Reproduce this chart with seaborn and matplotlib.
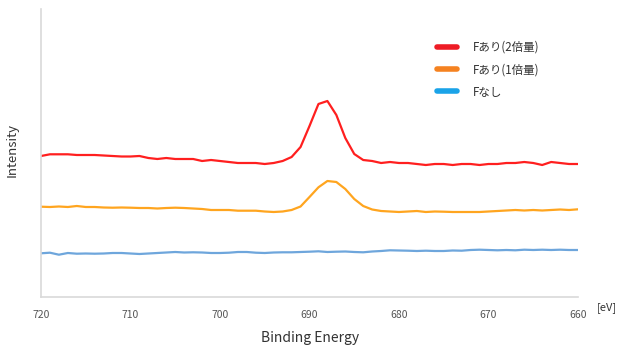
import numpy as np
import pandas as pd
import matplotlib
matplotlib.use("Agg")
import matplotlib.pyplot as plt
from matplotlib.lines import Line2D
import seaborn as sns

energy = list(range(720, 659, -1))
series_names = ["Fあり(2倍量)", "Fあり(1倍量)", "Fなし"]
red_vals = [144, 145.7, 145.7, 145.7, 145, 145, 145, 144.5, 144, 143.5, 143.5, 144, 142, 141, 142, 141,
            141, 141, 139, 140, 139, 138, 137, 137, 137, 136, 137, 139, 143, 153, 174, 196, 199, 185,
            162, 146, 140, 139, 137, 138, 137, 137, 136, 135, 136, 136, 135, 136, 136, 135, 136, 136,
            137, 137, 138, 137, 135, 138, 137, 136, 136]
orange_vals = [93.3, 93, 93.5, 93, 94, 93, 93, 92.5, 92.3, 92.5, 92.3, 92, 92, 91.5, 92, 92.3, 92, 91.5,
               91, 90, 90, 90, 89.3, 89.3, 89.3, 88.5, 88, 88.5, 90, 93.5, 103, 112.7, 119, 118, 111,
               101, 94, 90.5, 89, 88.5, 88, 88.5, 89, 88, 88.5, 88.3, 88, 88, 88, 88, 88.5, 89, 89.5,
               90, 89.5, 90, 89.5, 90, 90.5, 90, 90.7]
blue_vals = [46.7, 47.3, 45.3, 47, 46.3, 46.5, 46.3, 46.5, 47, 47, 46.5, 46, 46.5, 47, 47.5, 48, 47.5,
             47.7, 47.5, 47, 47, 47.3, 48, 48, 47.3, 47, 47.5, 47.7, 47.7, 48, 48.3, 48.7, 48, 48.3,
             48.5, 48, 47.7, 48.5, 49, 49.7, 49.5, 49.3, 49, 49.3, 49, 49, 49.5, 49.3, 50, 50.3, 50,
             49.7, 50, 49.7, 50.3, 50, 50.3, 50, 50.3, 50, 50]
x_ticks = [720, 710, 700, 690, 680, 670, 660]

line_colors = ["#ff1f1f", "#ffa51f", "#6ea6dc"]
legend_colors = ["#ee1c25", "#f58220", "#1aa3e8"]

df = pd.concat([
    pd.DataFrame({"energy": energy, "intensity": vals, "series": name})
    for name, vals in zip(series_names, [red_vals, orange_vals, blue_vals])
])

sns.set_style("white")
plt.rcParams['font.family'] = ['Noto Sans CJK JP', 'DejaVu Sans']

fig = plt.figure(figsize=(6.21, 3.47), dpi=100)
ax = fig.add_axes([41 / 621, 50 / 347, 537 / 621, 288 / 347])

sns.lineplot(data=df, x="energy", y="intensity", hue="series", palette=line_colors,
             hue_order=series_names, linewidth=1.6, ax=ax, legend=False, sort=False)

ax.set_xlim(720, 660)
ax.set_ylim(3, 291)
ax.set_xticks(x_ticks)
ax.set_xticklabels([str(t) for t in x_ticks])
ax.set_yticks([])
ax.tick_params(axis="x", length=0, pad=9, labelsize=7.5, labelcolor="#555555")
for side in ["top", "right"]:
    ax.spines[side].set_visible(False)
for side in ["left", "bottom"]:
    ax.spines[side].set_color("#d9d9d9")
    ax.spines[side].set_linewidth(1.2)

ax.set_xlabel("")
ax.set_ylabel("")
fig.text(310 / 621, 1 - 338 / 347, "Binding Energy", ha="center", va="center",
         fontsize=10, color="#333333")
fig.text(12 / 621, 1 - 150 / 347, "Intensity", ha="center", va="center",
         rotation=90, fontsize=9.5, color="#333333")
fig.text(597 / 621, 1 - 308 / 347, "[eV]", ha="left", va="center", fontsize=8, color="#333333")

handles = [Line2D([0], [0], color=c, linewidth=4, solid_capstyle="round") for c in legend_colors]
leg = ax.legend(handles, series_names, loc="upper left", bbox_to_anchor=(391 / 537, 1 - 27 / 288),
                frameon=False, fontsize=8.3, handlelength=1.75, handletextpad=1.4, labelspacing=0.82,
                borderaxespad=0)
for t in leg.get_texts():
    t.set_color("#333333")

fig.savefig("out.png", dpi=100)
